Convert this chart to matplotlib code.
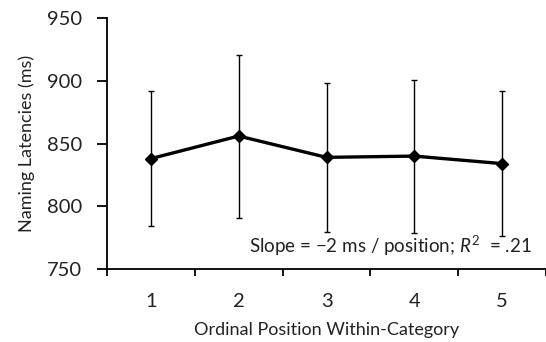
import numpy as np
from matplotlib import pyplot as plt
from matplotlib.ticker import FixedLocator

positions = [1, 2, 3, 4, 5]
latencies = [838, 856, 839, 840, 834]
errors = [54, 65, 59.5, 61, 58]
y_ticks = [750, 800, 850, 900, 950]

plt.rcParams['font.family'] = ['Lato', 'DejaVu Sans']
plt.rcParams['mathtext.fontset'] = 'custom'
plt.rcParams['mathtext.rm'] = 'Lato'
plt.rcParams['mathtext.it'] = 'Lato:italic'

fig = plt.figure(figsize=(5.46, 3.42), dpi=100)
ax = fig.add_axes([0.196, 0.2135, 0.804, 0.7335])

ax.errorbar(positions, latencies, yerr=errors, color='black', lw=2.4,
            marker='D', markersize=6.5, ecolor='black', elinewidth=1.0,
            capsize=2, capthick=1.0)

ax.set_xlim(0.5, 5.5)
ax.set_ylim(750, 950)
ax.set_yticks(y_ticks)
ax.set_xticks(positions)
ax.xaxis.set_minor_locator(FixedLocator(np.arange(0.5, 6.0, 1.0)))
ax.tick_params(axis='x', which='major', length=0, labelsize=14.5, pad=17,
               labelcolor='#222222')
ax.tick_params(axis='x', which='minor', length=5, width=1.3, direction='out')
ax.tick_params(axis='y', length=7, width=1.3, labelsize=14.5, pad=11,
               labelcolor='#222222')

for s in ['top', 'right']:
    ax.spines[s].set_visible(False)
for s in ['left', 'bottom']:
    ax.spines[s].set_linewidth(1.3)

ax.set_ylabel('Naming Latencies (ms)', fontsize=13, color='#222222')
ax.yaxis.set_label_coords(-0.164, 0.5)
ax.set_xlabel('Ordinal Position Within-Category', fontsize=13, color='#222222')
ax.xaxis.set_label_coords(0.5, -0.211)

ax.text(0.967, 0.065, 'Slope = \u22122 ms / position; $\\mathit{R}^{2}$  = .21',
        transform=ax.transAxes, ha='right', va='baseline', fontsize=13.5,
        color='#222222')

fig.savefig('out.png', dpi=100)
